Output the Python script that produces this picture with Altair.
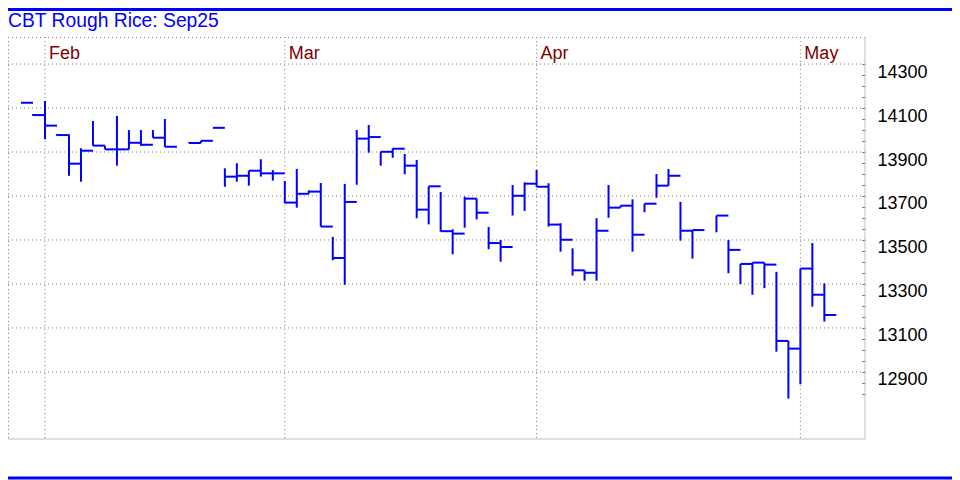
import altair as alt
import pandas as pd

TITLE = "CBT Rough Rice: Sep25"

# trading-day slot (0 = first day of Feb on the chart), high, low, close
slots = [-2, -1, 0, 1, 2, 3, 4, 5, 6, 7, 8, 9, 10, 12, 13, 14, 15, 16, 17, 18, 19,
         20, 21, 22, 23, 24, 25, 26, 27, 28, 29, 30, 31, 32, 33, 34, 35, 36, 37, 38, 39, 40,
         41, 42, 43, 44, 45, 46, 47, 48, 49, 50, 51, 52, 53, 54, 56, 57, 58, 59, 60, 61, 62,
         63, 64, 65]
highs = [14124, 14073, 14132, 13982, 13980, 13917, 14041, 13929, 14064, 14000, 14000, 14000, 14050,
         13945, 13951, 14010, 13826, 13849, 13815, 13867, 13818,
         13768, 13823, 13726, 13759, 13514, 13755, 14000, 14023, 13901, 13917, 13891, 13864, 13744,
         13718, 13549, 13697, 13688, 13559, 13500, 13750, 13762,
         13818, 13758, 13576, 13462, 13362, 13599, 13750, 13656, 13685, 13665, 13800, 13823, 13673,
         13545, 13611, 13500, 13391, 13397, 13397, 13355, 13041,
         13370, 13486, 13303]
lows = [14124, 14065, 13958, 13974, 13792, 13765, 13929, 13912, 13838, 13912, 13929, 13965, 13923,
        13941, 13941, 14010, 13742, 13765, 13747, 13788, 13770,
        13667, 13647, 13710, 13561, 13408, 13296, 13751, 13897, 13838, 13874, 13799, 13599, 13571,
        13538, 13435, 13556, 13594, 13458, 13401, 13611, 13632,
        13742, 13561, 13447, 13338, 13315, 13315, 13601, 13647, 13447, 13626, 13692, 13747, 13497,
        13415, 13535, 13349, 13299, 13251, 13281, 12992, 12779,
        12844, 13197, 13129]
closes = [14124, 14068, 14020, 13977, 13847, 13906, 13929, 13912, 13912, 13942, 13933, 13965, 13924,
          13941, 13951, 14010, 13788, 13792, 13815, 13803, 13803,
          13670, 13710, 13720, 13561, 13418, 13673, 13961, 13968, 13901, 13915, 13838, 13638, 13744,
          13540, 13529, 13688, 13624, 13486, 13468, 13701, 13756,
          13742, 13570, 13501, 13362, 13351, 13542, 13647, 13656, 13524, 13665, 13747, 13792, 13542,
          13545, 13611, 13455, 13391, 13397, 13388, 13041, 13006,
          13370, 13251, 13159]

month_slots = [0, 20, 41, 63]
month_names = ["Feb", "Mar", "Apr", "May"]
grid_prices = [12900, 13100, 13300, 13500, 13700, 13900, 14100, 14300]
tick_prices = [12800, 12850, 12900, 12950, 13000, 13050, 13100, 13150, 13200, 13250, 13300,
               13350, 13400, 13450, 13500, 13550, 13600, 13650, 13700, 13750, 13800, 13850,
               13900, 13950, 14000, 14050, 14100, 14150, 14200, 14250, 14300]

W, H = 857, 402
FONT = "Liberation Sans"
BLUE = "#0000FF"
DOT = "#808080"

xs = alt.Scale(domain=[-3.086, 68.39], nice=False, zero=False)
ys = alt.Scale(domain=[12595, 14423], nice=False, zero=False)

yax = alt.Axis(
    orient="right", values=tick_prices, title="", grid=False, domain=False,
    tickSize=3, offset=-3, tickColor="#606060", tickWidth=1,
    labelExpr="datum.value % 200 == 100 ? datum.label : ''",
    format="d", labelOverlap=False, labelFlush=False,
    labelPadding=12, labelFontSize=18, labelFont=FONT, labelColor="#000000",
    labelBaseline="alphabetic", labelOffset=13, labelAlign="left")

df = pd.DataFrame({"slot": slots, "high": highs, "low": lows, "close": closes})
mdf = pd.DataFrame({"slot": month_slots, "name": month_names})
gdf = pd.DataFrame({"p": grid_prices})
one = pd.DataFrame({"t": [TITLE]})

hgrid = alt.Chart(gdf).mark_rule(color=DOT, strokeDash=[1, 3], strokeWidth=1).encode(
    y=alt.Y("p:Q", scale=ys, axis=yax), x=alt.value(0), x2=alt.value(W))

vgrid = alt.Chart(mdf).mark_rule(color=DOT, strokeDash=[1, 3], strokeWidth=1).encode(
    x=alt.X("slot:Q", scale=xs, axis=None), y=alt.value(0), y2=alt.value(H))

top_border = alt.Chart(one).mark_rule(color=DOT, strokeDash=[1, 3], strokeWidth=1).encode(
    x=alt.value(0), x2=alt.value(W), y=alt.value(0.5))
left_border = alt.Chart(one).mark_rule(color=DOT, strokeDash=[1, 3], strokeWidth=1).encode(
    x=alt.value(0.5), y=alt.value(0), y2=alt.value(H))
right_border = alt.Chart(one).mark_rule(color="#c0c0c0", strokeWidth=1).encode(
    x=alt.value(W), y=alt.value(0), y2=alt.value(H))
bottom_border = alt.Chart(one).mark_rule(color="#c0c0c0", strokeWidth=1).encode(
    x=alt.value(0), x2=alt.value(W), y=alt.value(H))

top_bar = alt.Chart(one).mark_rule(color=BLUE, strokeWidth=3).encode(
    x=alt.value(0), x2=alt.value(944), y=alt.value(-27.5))
bottom_bar = alt.Chart(one).mark_rule(color=BLUE, strokeWidth=3).encode(
    x=alt.value(0), x2=alt.value(944), y=alt.value(441))

title = alt.Chart(one).mark_text(align="left", baseline="alphabetic", color=BLUE,
                                 fontSize=19.3, font=FONT).encode(
    x=alt.value(0), y=alt.value(-10.5), text="t:N")

months = alt.Chart(mdf).mark_text(align="left", baseline="alphabetic", dx=4, color="#800000",
                                  fontSize=18, font=FONT).encode(
    x=alt.X("slot:Q", scale=xs, axis=None), y=alt.value(21.7), text="name:N")

hl = alt.Chart(df).mark_rule(color=BLUE, strokeWidth=2).encode(
    x=alt.X("slot:Q", scale=xs, axis=None),
    y=alt.Y("low:Q", scale=ys, axis=yax),
    y2="high:Q")

cl = alt.Chart(df).transform_calculate(nxt="datum.slot + 1").mark_rule(
    color=BLUE, strokeWidth=2).encode(
    x=alt.X("slot:Q", scale=xs, axis=None), x2="nxt:Q",
    y=alt.Y("close:Q", scale=ys, axis=yax))

chart = alt.layer(hgrid, vgrid, top_border, left_border, right_border, bottom_border,
                  top_bar, bottom_bar, title, months, hl, cl).properties(
    width=W, height=H,
    padding={"left": 0, "top": 29, "right": 87, "bottom": 41},
    autosize=alt.AutoSizeParams(type="none"),
    background="#ffffff",
).configure_view(stroke="transparent")

chart.save("out.html", embed_options={"renderer": "svg", "actions": False})
